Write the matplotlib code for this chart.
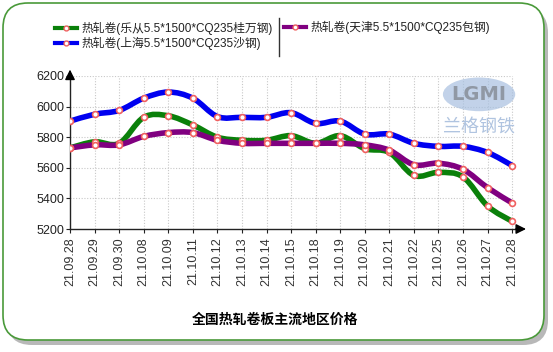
import matplotlib
matplotlib.use("Agg")
import matplotlib.pyplot as plt
from matplotlib.path import Path
from matplotlib.patches import PathPatch, FancyBboxPatch, Ellipse
from matplotlib.lines import Line2D
import numpy as np

dates = ["21.09.28", "21.09.29", "21.09.30", "21.10.08", "21.10.09", "21.10.11",
         "21.10.12", "21.10.13", "21.10.14", "21.10.15", "21.10.18", "21.10.19",
         "21.10.20", "21.10.21", "21.10.22", "21.10.25", "21.10.26", "21.10.27", "21.10.28"]
lecong = [5730, 5770, 5760, 5930, 5940, 5880, 5800, 5780, 5780, 5810, 5760, 5810,
          5725, 5700, 5550, 5570, 5540, 5350, 5250]
shanghai = [5905, 5950, 5975, 6055, 6095, 6055, 5935, 5930, 5930, 5960, 5890, 5905,
            5820, 5820, 5760, 5740, 5740, 5700, 5615]
tianjin = [5730, 5750, 5750, 5805, 5830, 5830, 5780, 5760, 5760, 5760, 5760, 5760,
           5750, 5715, 5620, 5630, 5590, 5470, 5370]
names = ["热轧卷(乐从5.5*1500*CQ235桂万钢)", "热轧卷(上海5.5*1500*CQ235沙钢)",
         "热轧卷(天津5.5*1500*CQ235包钢)"]
yticks = [5200, 5400, 5600, 5800, 6000, 6200]
title = "全国热轧卷板主流地区价格"

CJK = ["Noto Sans CJK SC", "DejaVu Sans"]
MIX = ["Liberation Sans", "Noto Sans CJK SC", "DejaVu Sans"]
W, H = 553, 352
fig = plt.figure(figsize=(W / 100, H / 100), dpi=100)

def fx(px):
    return px / W

def fy(py):
    return 1 - py / H

# background frame with shadow
shadow = FancyBboxPatch((fx(7), fy(345)), fx(541), (345 - 8) / H,
                        boxstyle="round,pad=0,rounding_size=0.045",
                        transform=fig.transFigure, facecolor="#b8b8b8",
                        edgecolor="none", zorder=-3, mutation_aspect=W / H)
frame = FancyBboxPatch((fx(3), fy(340)), fx(541), (340 - 3) / H,
                       boxstyle="round,pad=0,rounding_size=0.045",
                       transform=fig.transFigure, facecolor="white",
                       edgecolor="#4a9a3a", lw=1.2, zorder=-2, mutation_aspect=W / H)
fig.patches.extend([shadow, frame])

ax = fig.add_axes([fx(70), 1 - 229 / H, fx(452), 153 / H])
ax.set_facecolor("none")
x = np.arange(len(dates))
ax.set_xlim(0, 18.4)
ax.set_ylim(5200, 6200)

for s in ["top", "right"]:
    ax.spines[s].set_visible(False)
for s in ["left", "bottom"]:
    ax.spines[s].set_color("#222222")
    ax.spines[s].set_linewidth(1.0)

# grid
for xi in x[1:]:
    ax.plot([xi, xi], [5200, 6200], ls=(0, (1, 1.5)), color="#c8c8c8", lw=0.8, zorder=1)
for yv in yticks[1:]:
    ax.plot([0, x[-1]], [yv, yv], ls=(0, (1, 1.5)), color="#c8c8c8", lw=0.8, zorder=1)

# watermark
ax.add_patch(Ellipse((0.905, 0.88), 0.16, 0.22, transform=ax.transAxes,
                     facecolor="#a8c0e0", edgecolor="none", alpha=0.7, zorder=1))
ax.text(0.905, 0.88, "LGMI", transform=ax.transAxes, ha="center", va="center",
        fontsize=14, color="#9098a4", fontweight="bold", family="DejaVu Sans", zorder=1)
ax.text(0.905, 0.66, "兰格钢铁", transform=ax.transAxes, ha="center", va="center",
        fontsize=13, color="#b0c4e0", family=CJK, style="italic", zorder=1)


def smooth_path(xs, ys):
    pts = np.column_stack([xs, ys]).astype(float)
    n = len(pts)
    verts = [pts[0]]
    codes = [Path.MOVETO]
    for i in range(n - 1):
        p0 = pts[i - 1] if i > 0 else pts[i]
        p1 = pts[i]
        p2 = pts[i + 1]
        p3 = pts[i + 2] if i + 2 < n else pts[i + 1]
        c1 = p1 + (p2 - p0) / 6.0
        c2 = p2 - (p3 - p1) / 6.0
        verts += [c1, c2, p2]
        codes += [Path.CURVE4] * 3
    return Path(verts, codes)

series = [(lecong, "#0a800a"), (shanghai, "#0000f0"), (tianjin, "#800080")]
for vals, col in series:
    ax.add_patch(PathPatch(smooth_path(x, vals), facecolor="none", edgecolor=col,
                           lw=4.0, zorder=3, capstyle="round", joinstyle="round"))
for vals, col in series:
    ax.plot(x, vals, ls="none", marker="o", ms=4.2, mfc="white", mec="#f06060",
            mew=1.2, zorder=4)

ax.set_yticks(yticks)
ax.set_yticklabels([str(v) for v in yticks], fontsize=9, family="Liberation Sans",
                   color="#222222")
ax.set_xticks(x)
ax.set_xticklabels(dates, rotation=90, fontsize=9, family="Liberation Sans",
                   color="#333333")
ax.tick_params(axis="y", length=3, width=0.8, pad=1, color="#222222")
ax.tick_params(axis="x", length=3, width=0.8, pad=3, color="#222222")

# axis arrows
ax.annotate("", xy=(0, 1.06), xytext=(0, 0.97), xycoords="axes fraction",
            arrowprops=dict(arrowstyle="-|>,head_length=0.6,head_width=0.3",
                            color="black", lw=1), annotation_clip=False)
ax.annotate("", xy=(1.015, 0), xytext=(0.98, 0), xycoords="axes fraction",
            arrowprops=dict(arrowstyle="-|>,head_length=0.6,head_width=0.3",
                            color="black", lw=1), annotation_clip=False)

# legend (manual)
leg = [(names[0], "#0a800a", 55, 28), (names[1], "#0000f0", 55, 43),
       (names[2], "#800080", 284, 27)]
for txt, col, lx, ly in leg:
    fig.add_artist(Line2D([fx(lx), fx(lx + 22)], [fy(ly), fy(ly)], color=col, lw=3,
                          transform=fig.transFigure))
    fig.add_artist(Line2D([fx(lx + 11)], [fy(ly)], ls="none", marker="o", ms=3.5,
                          mfc="white", mec="#f06060", mew=1,
                          transform=fig.transFigure))
    fig.text(fx(lx + 26), fy(ly), txt, fontsize=8.5, family=MIX, va="center",
             ha="left", color="#222222")
fig.add_artist(Line2D([fx(279), fx(279)], [fy(18), fy(56)], color="#333333", lw=1,
                      transform=fig.transFigure))

fig.text(fx(275), fy(320), title, fontsize=10, fontweight="bold", family=CJK,
         ha="center", va="center", color="black")

fig.savefig("out.png", dpi=100)
